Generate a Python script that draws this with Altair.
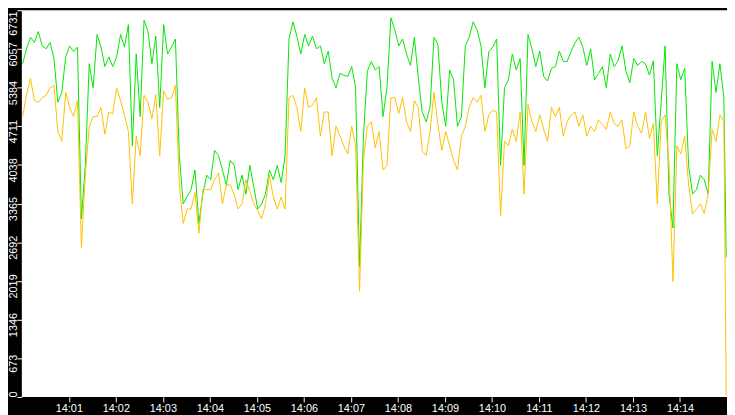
import altair as alt
import pandas as pd
from datetime import datetime, timedelta

# total (green) and part (orange) series, sampled every 5 s from 14:00:01
GREEN = [
    5800, 6060, 6260, 6170, 6360, 6110, 6060, 6170, 5890, 5130,
    5300, 5920, 6110, 6010, 6090, 3100, 4030, 5800, 5380, 6310,
    6090, 5750, 5920, 5750, 5920, 6310, 6090, 6480, 4370, 5970,
    4880, 6560, 6360, 5800, 6280, 5040, 6480, 5970, 6090, 6230,
    4200, 3360, 3490, 3610, 3950, 3020, 3530, 3860, 3780, 4290,
    4200, 3950, 3690, 4120, 4030, 3610, 3860, 3530, 4030, 3660,
    3270, 3360, 3530, 3950, 3780, 4030, 3730, 4200, 6230, 6530,
    6280, 5970, 6310, 6110, 6280, 6060, 6110, 5800, 6020, 5550,
    5380, 5630, 5600, 5580, 5750, 5380, 2260, 4540, 5670, 5840,
    5690, 5750, 4880, 5380, 6600, 6390, 6110, 6230, 5970, 5770,
    6260, 5550, 4960, 4790, 5040, 6260, 6140, 5130, 4710, 5690,
    5520, 4710, 4880, 6110, 6260, 6530, 6390, 6110, 5380, 6010,
    6090, 6230, 4030, 5380, 5520, 5970, 5690, 5890, 4030, 6310,
    6060, 5750, 6020, 5580, 5500, 5720, 5750, 6020, 5840, 5840,
    6010, 6170, 6260, 6090, 5770, 6060, 5520, 5630, 5750, 5380,
    5970, 5750, 5850, 6110, 5670, 5470, 5890, 5770, 5840, 5800,
    5600, 5850, 4200, 5130, 6110, 3530, 2940, 5800, 5520, 5720,
    4030, 3530, 3610, 3860, 3780, 3530, 5840, 5300, 5800, 5210,
    2430,
]

ORANGE = [
    4880, 5260, 5550, 5160, 5130, 5210, 5250, 5380, 5420, 4620,
    4450, 5300, 5040, 4880, 5160, 2600, 3860, 4710, 4880, 4880,
    5040, 4570, 4960, 4930, 5380, 5160, 4910, 4620, 3360, 4540,
    4200, 5250, 5130, 4840, 5260, 4200, 5330, 5180, 5210, 5420,
    3690, 3020, 3270, 3270, 3560, 2850, 3610, 3610, 3610, 3780,
    3900, 3360, 3690, 3690, 3530, 3270, 3360, 3780, 3580, 3360,
    3240, 3100, 3360, 3860, 3480, 3270, 3480, 3270, 5210, 5250,
    5040, 4620, 5380, 5040, 5080, 5210, 4540, 4960, 4960, 4200,
    4710, 4540, 4370, 4230, 4710, 4370, 1840, 4120, 4710, 4790,
    4340, 4620, 3950, 4030, 5210, 5210, 4930, 5210, 4790, 4620,
    5160, 5040, 4290, 4200, 4620, 5300, 4740, 4290, 4620, 4370,
    4120, 3950, 4540, 4710, 5040, 5210, 5130, 5250, 4620, 4910,
    4990, 4960, 3150, 4450, 4370, 4660, 4450, 4960, 3530, 5090,
    4790, 4620, 4910, 4660, 4450, 5040, 4880, 5040, 4540, 4790,
    4910, 4960, 4710, 4910, 4540, 4710, 4620, 4820, 4740, 4660,
    4960, 4760, 4710, 4820, 4320, 4370, 4960, 4710, 4590, 4960,
    4500, 4760, 3360, 4790, 4910, 4030, 2010, 4370, 4230, 4540,
    3690, 3190, 3270, 3360, 3190, 3530, 4660, 4450, 4910, 4790,
    30,
]

Y_TICKS = [0, 673, 1346, 2019, 2692, 3365, 4038, 4711, 5384, 6057, 6731]
X_TICK_MINUTES = list(range(1, 15))

start = datetime(2024, 1, 1, 14, 0, 1)
TIMES = [(start + timedelta(seconds=5 * i)).strftime("%Y-%m-%dT%H:%M:%S") for i in range(180)]
TIMES.append("2024-01-01T14:14:59")

df = pd.DataFrame({"time": TIMES, "total": GREEN, "part": ORANGE})


def dt(m):
    return alt.DateTime(year=2024, month=1, date=1, hours=14, minutes=m)


x_enc = alt.X(
    "time:T",
    scale=alt.Scale(domain=[dt(0), dt(15)]),
    axis=alt.Axis(
        title=None,
        format="%H:%M",
        values=[dt(m) for m in X_TICK_MINUTES],
        labelPadding=1,
        labelFlush=False,
        labelOverlap=False,
    ),
)

y_axis = alt.Axis(
    title=None,
    values=Y_TICKS,
    format="d",
    labelAngle=270,
    labelAlign="center",
    labelBaseline="bottom",
    labelPadding=-2,
    labelOffset={
        "condition": [
            {"test": "datum.value >= 6700", "value": 13},
            {"test": "datum.value <= 0", "value": -3},
        ],
        "value": 5,
    },
    labelFlush=False,
    labelOverlap=False,
)
y_scale = alt.Scale(domain=[0, 6731], nice=False, zero=True)

base = alt.Chart(df)
green = base.mark_line(color="#00e800", strokeWidth=1, clip=True).encode(
    x=x_enc, y=alt.Y("total:Q", scale=y_scale, axis=y_axis)
)
orange = base.mark_line(color="#ffc000", strokeWidth=1, clip=True).encode(
    x=x_enc, y=alt.Y("part:Q", scale=y_scale, axis=y_axis)
)

chart = (
    alt.layer(green, orange)
    .properties(
        width=713,
        height=391,
        autosize=alt.AutoSizeParams(type="none"),
        padding={"left": 14, "top": 0, "right": 0, "bottom": 16},
        background="#000000",
    )
    .configure_view(fill="#ffffff", strokeWidth=0)
    .configure_axis(
        grid=False,
        domain=False,
        labelColor="#ffffff",
        tickColor="#ffffff",
        labelFont="Liberation Sans",
        labelFontSize=11,
        tickSize=5,
        tickWidth=1,
    )
)

chart.save("out.html", embed_options={"renderer": "svg", "actions": False})
